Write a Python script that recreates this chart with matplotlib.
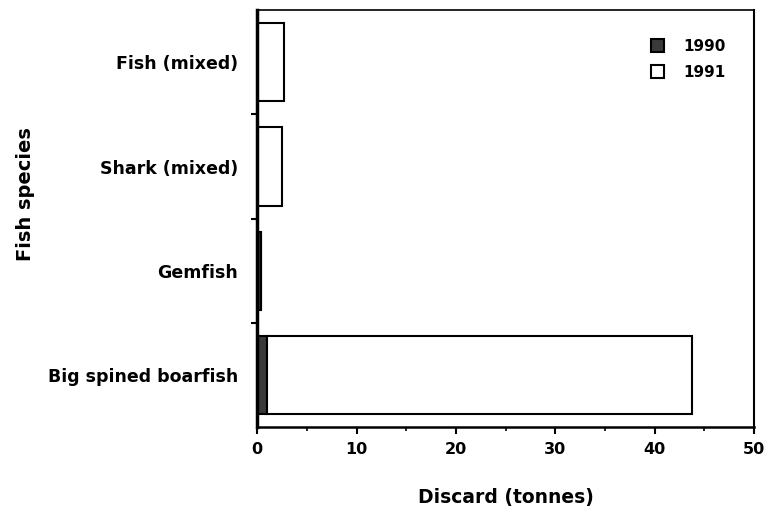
import matplotlib.pyplot as plt
import numpy as np

species = ['Big spined boarfish', 'Gemfish', 'Shark (mixed)', 'Fish (mixed)']
d1990 = [1.0, 0.4, 0.0, 0.0]
d1991 = [42.8, 0.0, 2.5, 2.7]

plt.rcParams['font.family'] = 'DejaVu Sans'
plt.rcParams['font.weight'] = 'bold'

fig = plt.figure(figsize=(7.82, 5.12), dpi=100)
ax = fig.add_axes([0.329, 0.166, 0.635, 0.814])

y = np.arange(len(species))
ax.barh(y, d1990, height=0.75, color='#3a3a3a', edgecolor='black', linewidth=1.5, label='1990')
ax.barh(y, d1991, left=d1990, height=0.75, color='white', edgecolor='black', linewidth=1.5, label='1991')

ax.set_xlim(0, 50)
ax.set_ylim(-0.5, 3.5)
ax.set_xticks(np.arange(0, 51, 10))
ax.set_xticks(np.arange(0, 51, 5), minor=True)
ax.set_yticks(y)
ax.set_yticklabels(species, fontsize=12.5, fontweight='bold')
ax.set_yticks([0.5, 1.5, 2.5], minor=True)
ax.tick_params(axis='y', which='major', length=0, pad=14)
ax.tick_params(axis='y', which='minor', length=4, width=1.5)
ax.tick_params(axis='x', which='major', length=5, width=1.5, labelsize=11.5, pad=6)
ax.tick_params(axis='x', which='minor', length=3, width=1.2)
for lab in ax.get_xticklabels():
    lab.set_fontweight('bold')

ax.spines['left'].set_linewidth(2.5)
ax.spines['bottom'].set_linewidth(1.8)
ax.spines['top'].set_linewidth(1.2)
ax.spines['right'].set_linewidth(1.5)

ax.set_xlabel('Discard (tonnes)', fontsize=13.5, fontweight='bold', labelpad=22)
fig.text(0.032, 0.62, 'Fish species', rotation=90, fontsize=14, fontweight='bold', ha='center', va='center')

leg = ax.legend(loc='upper right', frameon=False, fontsize=11, handlelength=0.9, handleheight=0.9,
                handletextpad=1.2, labelspacing=0.75, bbox_to_anchor=(0.97, 0.965))
for t in leg.get_texts():
    t.set_fontweight('bold')

fig.savefig('out.png', dpi=100)
